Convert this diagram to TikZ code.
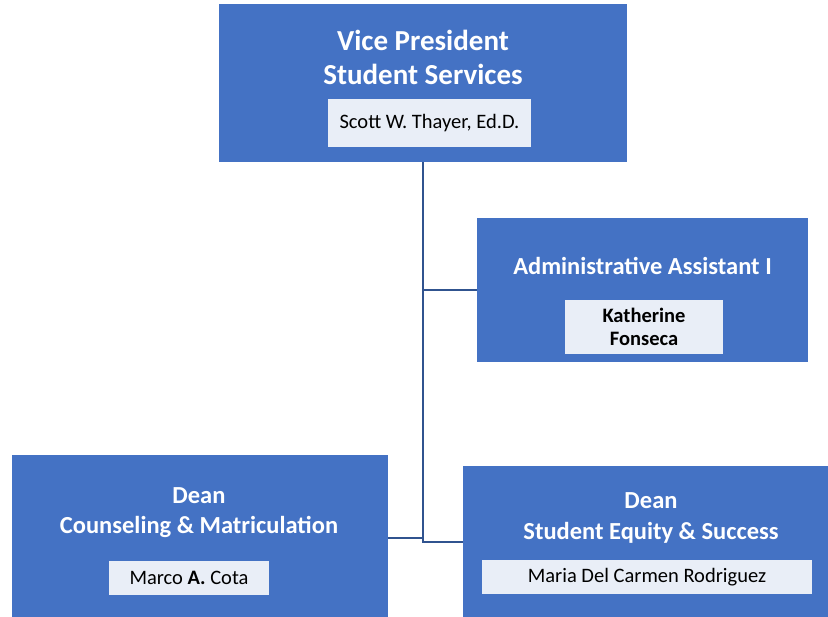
\documentclass[tikz,border=0pt]{standalone}
\usepackage{fontspec}
\setmainfont{Carlito}
\definecolor{boxblue}{HTML}{4472C4}
\definecolor{namefill}{HTML}{E9EEF7}
\definecolor{linkblue}{HTML}{30538F}
\begin{document}
\begin{tikzpicture}[x=1pt,y=-1pt,
  unitbox/.style={draw=none,fill=boxblue,inner sep=0pt,anchor=north west},
  titletext/.style={text=white,font=\bfseries\fontsize{24.5}{30.5}\selectfont,align=center,inner sep=0pt},
  namebox/.style={fill=namefill,draw=none,inner sep=0pt,align=center,text=black,font=\fontsize{20.5}{23}\selectfont},
  link/.style={draw=linkblue,line width=2.6pt}]
\useasboundingbox (0,0) rectangle (828,617);
\clip (0,0) rectangle (828,617);

% Vice President
\node[unitbox,minimum width=408pt,minimum height=158pt] (vp) at (219,4) {};
\node[titletext,font=\bfseries\fontsize{29}{34}\selectfont] (vpt) at (423,57) {Vice President\\Student Services};
\node[namebox,minimum width=203pt,minimum height=48pt] (vpn) at (429.5,123) {Scott W. Thayer, Ed.D.};

% Administrative assistant
\node[unitbox,minimum width=331pt,minimum height=144pt] (aa) at (477,218) {};
\node[titletext] (aat) at (642.5,266) {Administrative Assistant I};
\node[namebox,font=\bfseries\fontsize{20.5}{23}\selectfont,minimum width=158pt,minimum height=54pt] (aan) at (644,327) {Katherine\\Fonseca};

% Dean, counseling
\node[unitbox,minimum width=376pt,minimum height=200pt] (cm) at (12,455) {};
\node[titletext] (cmt) at (199,512.5) {Dean\\Counseling \& Matriculation};
\node[namebox,minimum width=160pt,minimum height=34pt] (cmn) at (189,578) {Marco \textbf{A.} Cota};

% Dean, student equity
\node[unitbox,minimum width=400pt,minimum height=200pt] (se) at (463,466) {};
\node[titletext] (set) at (651,518) {Dean\\Student Equity \& Success};
\node[namebox,minimum width=330pt,minimum height=34pt] (sen) at (647,577) {Maria Del Carmen Rodriguez};

% Reporting lines
\coordinate (trunk) at (423,542);
\coordinate (aajoin) at (423,290);
\coordinate (cmjoin) at (423,538);
\draw[link] (vp.south -| trunk) -- (trunk) -- (trunk -| se.west);
\draw[link] (aajoin) -- (aajoin -| aa.west);
\draw[link] (cmjoin -| cm.east) -- (cmjoin);
\end{tikzpicture}
\end{document}
